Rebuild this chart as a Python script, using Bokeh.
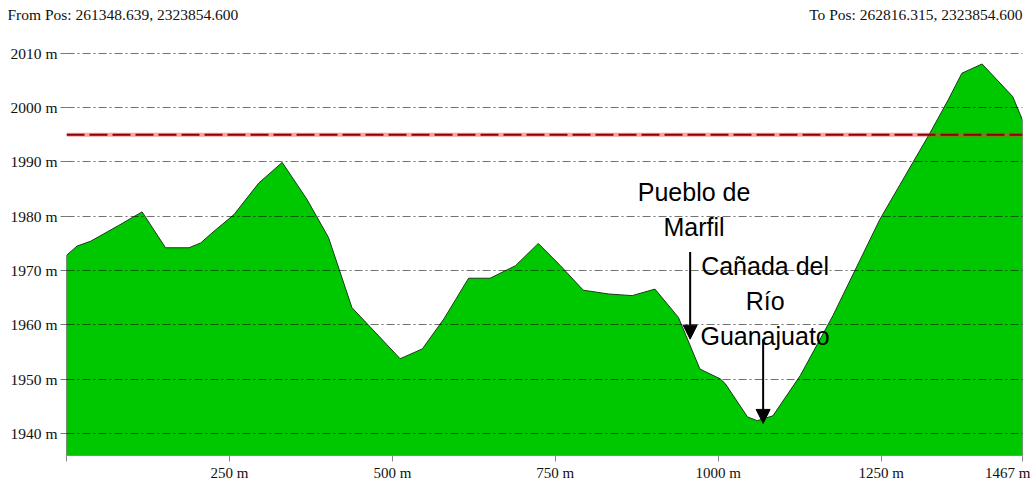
from bokeh.plotting import figure
from bokeh.layouts import column, row
from bokeh.models import Range1d, FixedTicker, Span, Arrow, NormalHead
from bokeh.core.properties import value
from bokeh.embed import file_html
from bokeh.resources import INLINE

# ---- data ----
dist = [0, 16, 37, 80, 116, 152, 188, 206, 223, 257, 295, 331, 369, 402, 438,
        512, 546, 579, 617, 650, 689, 724, 758, 793, 832, 868, 903, 939, 972,
        1003, 1011, 1045, 1060, 1084, 1126, 1176, 1248, 1279, 1325, 1353, 1374,
        1405, 1452, 1467]
elev = [1972.8, 1974.5, 1975.4, 1978.3, 1980.8, 1974.2, 1974.2, 1975.1, 1976.9,
        1980.3, 1986.1, 1989.9, 1983.1, 1976.1, 1963.2, 1953.8, 1955.6, 1961.1,
        1968.6, 1968.6, 1970.9, 1975.0, 1970.9, 1966.4, 1965.7, 1965.4, 1966.6,
        1961.4, 1951.9, 1950.1, 1949.2, 1943.1, 1942.4, 1943.3, 1950.7, 1961.7,
        1979.4, 1985.8, 1995.3, 2001.4, 2006.3, 2008.0, 2002.0, 1997.7]
x_ticks = [0, 250, 500, 750, 1000, 1250, 1467]
y_ticks = [1940, 1950, 1960, 1970, 1980, 1990, 2000, 2010]
ref_level = 1995
y_min, y_max = 1936, 2012.5
total_len = 1467

header_texts = ["From Pos: 261348.639, 2323854.600", "To Pos: 262816.315, 2323854.600"]
header_align = ["left", "right"]
header_x = [7, 1022]
header_y = [25, 25]

# annotations
ann_lines = ["Pueblo de", "Marfil", "Cañada del", "Río", "Guanajuato"]
ann_x = [963, 963, 1072, 1072, 1072]
ann_y = [1984.5, 1978.1, 1970.8, 1964.4, 1958.0]
arrow_x = [957, 1069]
arrow_y_start = [1973.4, 1957.4]
arrow_y_end = [1957.4, 1941.9]

W, H_HEAD, H_MAIN = 1030, 39, 444

# ---- header strip ----
h = figure(width=W, height=H_HEAD, output_backend="svg", toolbar_location=None,
           x_range=Range1d(0, W), y_range=Range1d(0, H_HEAD),
           min_border=0, x_axis_type=None, y_axis_type=None)
h.outline_line_color = None
h.xgrid.visible = False
h.ygrid.visible = False
h.text(x=header_x, y=header_y, text=header_texts, text_align=header_align,
       text_baseline="middle", text_font=value("Liberation Serif"),
       text_font_size="15.5px", text_color="#111111")

# ---- main profile ----
p = figure(width=W, height=H_MAIN, output_backend="svg", toolbar_location=None,
           x_range=Range1d(0, total_len), y_range=Range1d(y_min, y_max),
           min_border_left=66, min_border_right=8, min_border_top=0,
           min_border_bottom=26)
p.outline_line_color = None
p.background_fill_color = "white"
p.border_fill_color = "white"

px = [dist[0]] + dist + [dist[-1]]
py = [y_min] + elev + [y_min]
p.patch(px, py, fill_color="#00c800", line_color="#1a3a1a", line_width=1)

p.add_layout(Span(location=ref_level, dimension="width", line_color="#ff3030",
                  line_alpha=0.45, line_width=4))
p.add_layout(Span(location=ref_level, dimension="width", line_color="#8b0000",
                  line_width=2, line_dash="18 5"))

p.xaxis.ticker = FixedTicker(ticks=x_ticks)
p.xaxis.major_label_overrides = {t: (f"{t} m" if t else "") for t in x_ticks}
p.xaxis.minor_tick_line_color = None
p.xaxis.axis_line_color = "#888888"
p.xaxis.major_tick_line_color = "#888888"
p.xaxis.major_tick_out = 6
p.xaxis.major_tick_in = 0
p.xaxis.major_label_standoff = 3
p.xaxis.major_label_text_font = "Liberation Serif"
p.xaxis.major_label_text_font_size = "15px"
p.xaxis.major_label_text_color = "#111111"

p.yaxis.ticker = FixedTicker(ticks=y_ticks)
p.yaxis.major_label_overrides = {t: f"{t} m" for t in y_ticks}
p.yaxis.minor_tick_line_color = None
p.yaxis.axis_line_color = None
p.yaxis.major_tick_line_color = "#777777"
p.yaxis.major_tick_out = 6
p.yaxis.major_tick_in = 0
p.yaxis.major_label_standoff = 3
p.yaxis.major_label_text_font = "Liberation Serif"
p.yaxis.major_label_text_font_size = "15.5px"
p.yaxis.major_label_text_color = "#111111"

p.xgrid.grid_line_color = None
p.ygrid.ticker = FixedTicker(ticks=y_ticks)
p.ygrid.grid_line_color = "black"
p.ygrid.grid_line_alpha = 0.55
p.ygrid.grid_line_dash = "8 3 2 3"
p.ygrid.level = "overlay"

p.text(x=ann_x, y=ann_y, text=ann_lines, text_font=value("Liberation Sans"),
       text_font_size="25px", text_align="center", text_baseline="middle",
       text_color="black")
for ax, ys, ye in zip(arrow_x, arrow_y_start, arrow_y_end):
    p.add_layout(Arrow(end=NormalHead(size=14, fill_color="black", line_color="black"),
                       x_start=ax, y_start=ys, x_end=ax, y_end=ye,
                       line_width=2, line_color="black"))

layout = column(row(h, spacing=0), p, spacing=0)
open("out.html", "w").write(file_html(layout, INLINE))
